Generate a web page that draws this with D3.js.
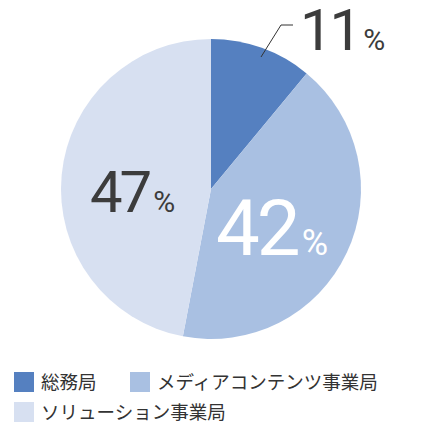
<!DOCTYPE html><html><head><meta charset="utf-8">
<script src="https://cdn.jsdelivr.net/npm/d3@7"></script>
<style>body{margin:0;background:#fff}</style></head><body>
<svg id="c" width="423" height="426"></svg>
<script>
const categories=["総務局","メディアコンテンツ事業局","ソリューション事業局"];
const values=[11,42,47];
const colors=["#5580c0","#a9c0e2","#d7e0f1"];
const svg=d3.select("#c");
const cx=211,cy=189,r=150;
const pie=d3.pie().sort(null).value(d=>d)(values);
const arc=d3.arc().innerRadius(0).outerRadius(r);
const g=svg.append("g").attr("transform",`translate(${cx},${cy})`);
g.selectAll("path").data(pie).join("path").attr("d",arc).attr("fill",(d,i)=>colors[i]);
svg.append("polyline").attr("points","261,57 281,25 293,25").attr("fill","none").attr("stroke","#333").attr("stroke-width",1);
function lab(x,y,v,size,col,ps){
  const t=svg.append("text").attr("x",x).attr("y",y).attr("fill",col)
   .attr("font-family","Roboto, sans-serif").attr("font-weight",400);
  t.append("tspan").attr("font-size",size).attr("letter-spacing",-3).text(v);
  t.append("tspan").attr("font-size",ps).attr("dx",4).text("%");
}
lab(300,50,values[0],58,"#3c3c3c",30);
lab(90,212,values[2],58,"#3c3c3c",30);
lab(216,255,values[1],78,"#ffffff",36);
const leg=[[0,14,372],[1,130,372],[2,14,402]];
leg.forEach(([i,x,y])=>{
  svg.append("rect").attr("x",x).attr("y",y).attr("width",20).attr("height",20).attr("fill",colors[i]);
  svg.append("text").attr("x",x+27).attr("y",y+17).attr("font-size",18.5)
   .attr("font-family","Noto Sans CJK JP").attr("fill","#333").text(categories[i]);
});
</script></body></html>
